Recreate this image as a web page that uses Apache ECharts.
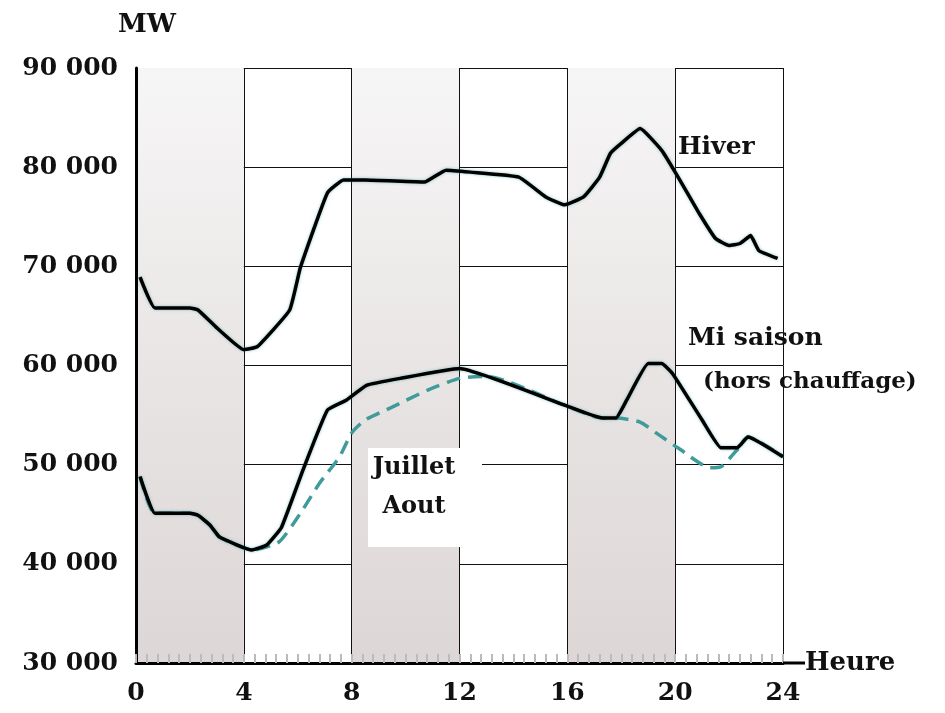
<!DOCTYPE html>
<html>
<head>
<meta charset="UTF-8">
<title>Courbe de charge journaliere</title>
<style>
  html, body { margin: 0; padding: 0; background: #fff; }
  #chart { width: 945px; height: 713px; }
</style>
<script src="https://cdn.jsdelivr.net/npm/echarts@6/dist/echarts.min.js"></script>
</head>
<body>
<div id="chart"></div>
<script>
// Hiver
var hiverHeures = [0.15, 0.7, 2.0, 2.3, 3.0, 4.0, 4.5, 5.7, 6.1, 7.1, 7.7, 8.5, 10.7, 11.5, 12.4, 14.2, 15.2, 15.9, 16.6, 17.2, 17.6, 18.0, 18.7, 19.5, 20.0, 20.9, 21.5, 22.0, 22.4, 22.8, 23.1, 23.8];
var hiverMW = [68900, 65800, 65800, 65600, 63800, 61600, 61900, 65600, 69900, 77400, 78700, 78700, 78500, 79700, 79500, 79000, 77000, 76200, 77000, 79000, 81400, 82400, 83900, 81700, 79500, 75300, 72800, 72100, 72300, 73100, 71600, 70800];

// Mi saison (hors chauffage)
var miHeures = [0.15, 0.7, 2.0, 2.3, 2.75, 3.1, 4.3, 4.85, 5.4, 6.2, 7.1, 7.8, 8.55, 9.8, 12.0, 15.9, 17.3, 17.8, 18.2, 19.0, 19.5, 19.9, 21.0, 21.7, 22.3, 22.7, 24.0];
var miMW = [48800, 45100, 45100, 44900, 43900, 42700, 41400, 41900, 43700, 49500, 55500, 56500, 58000, 58700, 59700, 56000, 54700, 54700, 56500, 60200, 60200, 59200, 54500, 51700, 51700, 52800, 50800];

// Juillet Aout
var eteHeures = [0.15, 0.7, 2.0, 2.3, 2.75, 3.1, 4.3, 5.3, 6.1, 6.8, 7.55, 8.0, 8.5, 9.5, 10.8, 12.0, 13.0, 15.9, 17.3, 17.8, 18.7, 19.4, 20.1, 21.3, 21.7, 22.3, 22.7, 24.0];
var eteMW = [48800, 45100, 45100, 44900, 43900, 42700, 41400, 42200, 45100, 48100, 50800, 53200, 54500, 55800, 57500, 58700, 58900, 56000, 54700, 54700, 54300, 53000, 51700, 49700, 49800, 51500, 52800, 50800];

var FONT = '"DejaVu Serif", serif';

function pairs(xs, ys) {
  return xs.map(function (x, i) { return [x, ys[i]]; });
}
function fmtMW(v) {
  return v === 0 ? '0' : (v / 1000) + ' 000';
}

var chart = echarts.init(document.getElementById('chart'));

// grey-pink shading of every other 4 h column
var bandFill = new echarts.graphic.LinearGradient(0, 0, 0, 1, [
  { offset: 0, color: '#f7f6f6' },
  { offset: 0.5, color: '#e9e5e5' },
  { offset: 1, color: '#ddd6d6' }
]);

var lineGlow = { shadowColor: 'rgba(40,150,150,0.55)', shadowBlur: 3 };

var option = {
  animation: false,
  backgroundColor: '#fff',
  grid: { left: 136, right: 162, top: 68, bottom: 50 },
  xAxis: {
    type: 'value',
    min: 0, max: 24, interval: 4,
    name: 'Heure',
    nameLocation: 'end',
    nameGap: 22,
    nameTextStyle: { fontFamily: FONT, fontWeight: 'bold', fontSize: 26, color: '#111' },
    axisLine: { show: true, onZero: false, lineStyle: { color: '#000', width: 3 } },
    axisTick: { show: true, inside: true, length: 9, lineStyle: { color: '#bbb', width: 2 } },
    minorTick: { show: true, splitNumber: 10, length: 9, lineStyle: { color: '#bbb', width: 2 } },
    axisLabel: { fontFamily: FONT, fontWeight: 'bold', fontSize: 25, color: '#111', margin: 18 },
    splitLine: { show: true, lineStyle: { color: '#111', width: 1 } },
    splitArea: { show: true, areaStyle: { color: [bandFill, 'rgba(255,255,255,0)'] } }
  },
  yAxis: {
    type: 'value',
    min: 30000, max: 90000, interval: 10000,
    axisLine: { show: true, onZero: false, lineStyle: { color: '#000', width: 3 } },
    axisTick: { show: false },
    axisLabel: { fontFamily: FONT, fontWeight: 'bold', fontSize: 25, color: '#111', margin: 18, formatter: fmtMW },
    splitLine: { show: true, lineStyle: { color: '#111', width: 1 } }
  },
  series: [
    {
      name: 'Juillet Aout',
      type: 'line',
      data: pairs(eteHeures, eteMW),
      smooth: 0.2,
      symbol: 'none',
      z: 3,
      lineStyle: { color: '#3f9c9a', width: 3.5, type: [14, 8] }
    },
    {
      name: 'Mi saison',
      type: 'line',
      data: pairs(miHeures, miMW),
      smooth: 0.12,
      symbol: 'none',
      z: 4,
      lineStyle: Object.assign({ color: '#000', width: 3.5 }, lineGlow)
    },
    {
      name: 'Hiver',
      type: 'line',
      data: pairs(hiverHeures, hiverMW),
      smooth: 0.12,
      symbol: 'none',
      z: 4,
      lineStyle: Object.assign({ color: '#000', width: 3.5 }, lineGlow)
    }
  ]
};
chart.setOption(option);

// decorations placed after the axes are known
var corner = chart.convertToPixel({ gridIndex: 0 }, [24, 30000]);
var top = chart.convertToPixel({ gridIndex: 0 }, [0, 90000]);
function txt(s, x, y, size, align) {
  return {
    type: 'text', z: 20, x: x, y: y,
    style: { text: s, font: 'bold ' + size + 'px ' + FONT, fill: '#111', align: align || 'left', verticalAlign: 'middle' }
  };
}
chart.setOption({
  graphic: [
    { type: 'line', z: 20, shape: { x1: corner[0], y1: corner[1], x2: corner[0] + 22, y2: corner[1] }, style: { stroke: '#000', lineWidth: 3 } },
    { type: 'line', z: 20, shape: { x1: top[0], y1: top[1], x2: top[0], y2: top[1] - 15 }, style: { stroke: '#000', lineWidth: 3 } },
    { type: 'rect', z: 15, shape: { x: 368, y: 448, width: 114, height: 99 }, style: { fill: '#fff' } },
    txt('MW', 118, 25, 26),
    txt('Hiver', 678, 147, 25),
    txt('Mi saison', 688, 338, 25),
    txt('(hors chauffage)', 703, 382, 23),
    txt('Juillet', 414, 468, 24, 'center'),
    txt('Aout', 414, 507, 24, 'center')
  ]
});
</script>
</body>
</html>
